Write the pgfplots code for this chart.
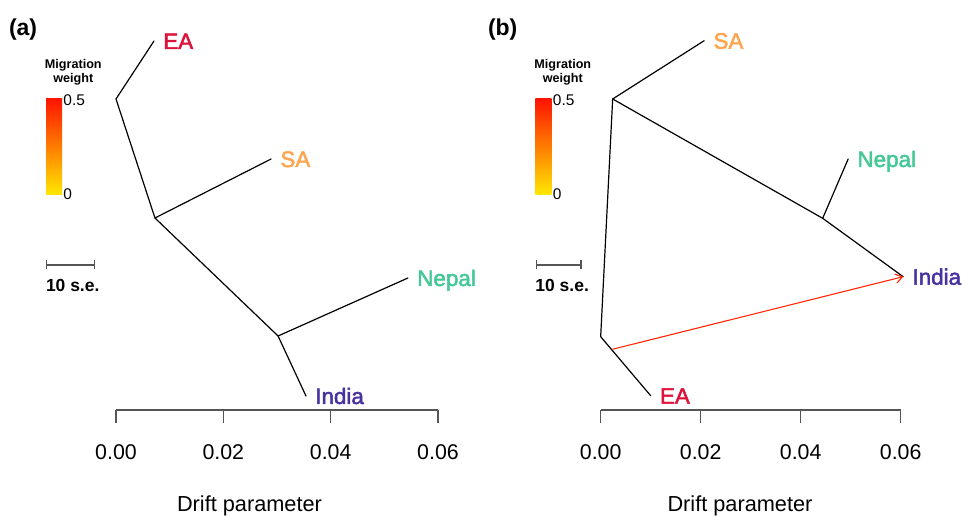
\documentclass[border=0pt]{standalone}
\usepackage{pgfplots}
\pgfplotsset{compat=1.18}
\usepackage{fontspec}
\setmainfont{Liberation Sans}
\newfontfamily\lblfont[FakeBold=2.2]{Liberation Sans}
\usetikzlibrary{arrows.meta}
\definecolor{cEA}{RGB}{220,20,60}
\definecolor{cSA}{RGB}{255,165,79}
\definecolor{cNP}{RGB}{69,200,150}
\definecolor{cIN}{RGB}{72,50,160}
\definecolor{axgray}{RGB}{85,85,85}
\definecolor{mig}{RGB}{255,35,0}
\definecolor{hotred}{RGB}{255,20,0}
\definecolor{hotorange}{RGB}{255,120,0}
\definecolor{hotyellow}{RGB}{255,232,0}

\pgfplotsset{treeaxis/.style={
  scale only axis, anchor=south west,
  height=277.5pt,
  xmin=0, xmax=0.06, ymin=107, ymax=477,
  axis x line*=bottom, axis y line=none, ytick=\empty,
  clip=false,
  xtick={0,0.02,0.04,0.06},
  scaled x ticks=false,
  tick align=outside,
  major tick length=10.1pt,
  every tick/.style={axgray, line width=1.2pt},
  axis line style={axgray, line width=1.2pt},
  /pgf/number format/fixed,
  /pgf/number format/fixed zerofill,
  /pgf/number format/precision=2,
  /pgf/number format/assume math mode=true,
  xticklabel style={font=\fontsize{16}{18}\selectfont},
  xticklabel shift=12pt,
}}
\tikzset{
  tree/.style={black, line width=0.9pt, line join=round, line cap=round, mark=none},
  lbl/.style={anchor=base west, inner sep=0pt, outer sep=0pt, xshift=7pt, yshift=-6pt,
    font=\lblfont\fontsize{16.8}{20}\selectfont},
  txt/.style={inner sep=0pt, outer sep=0pt},
  sbar/.style={axgray, line width=1pt, mark=none, {Bar[width=6.75pt]}-{Bar[width=6.75pt]}},
}

\newcommand\legendblock[1]{%
  \node[txt, anchor=base, font=\bfseries\fontsize{9.45}{11}\selectfont] at ({55pt+#1},336pt) {Migration};
  \node[txt, anchor=base, font=\bfseries\fontsize{9.45}{11}\selectfont] at ({55pt+#1},325.5pt) {weight};
  \shade[bottom color=hotyellow, middle color=hotorange, top color=hotred]
     ({34.5pt+#1},241.5pt) rectangle ({46.5pt+#1},313.5pt);
  \node[txt, anchor=west, font=\fontsize{11.6}{13}\selectfont] at ({47.6pt+#1},312.75pt) {0.5};
  \node[txt, anchor=west, font=\fontsize{11.6}{13}\selectfont] at ({47.6pt+#1},242.25pt) {0};
  \node[txt, anchor=base west, font=\bfseries\fontsize{13.1}{15}\selectfont] at ({34.5pt+#1},169.1pt) {10 s.e.};
}

\begin{document}
\begin{tikzpicture}
\path[use as bounding box] (0,0) rectangle (722.25pt,387.75pt);

% ---------------- panel (a) ----------------
\begin{axis}[treeaxis, at={(87pt,80.25pt)}, width=241.5pt]
  \addplot[tree] coordinates {(0.00708,476) (0,418) (0.00726,299) (0.0289,358)};
  \addplot[tree] coordinates {(0.00726,299) (0.0302,181) (0.0544,239)};
  \addplot[tree] coordinates {(0.0302,181) (0.0354,121)};
  \addplot[sbar] coordinates {(-0.0131,252) (-0.0039,252)};
  \node[lbl, text=cEA] at (axis cs:0.00708,476) {EA};
  \node[lbl, text=cSA] at (axis cs:0.0289,358) {SA};
  \node[lbl, text=cNP] at (axis cs:0.0544,239) {Nepal};
  \node[lbl, text=cIN] at (axis cs:0.0354,121) {India};
\end{axis}

% ---------------- panel (b) ----------------
\begin{axis}[treeaxis, at={(450.5pt,80.25pt)}, width=225pt]
  \addplot[tree] coordinates {(0.0207,476.3) (0.0024,418) (0,180.3) (0.0100,121.3)};
  \addplot[tree] coordinates {(0.0024,418) (0.0444,298.7) (0.0605,240.3)};
  \addplot[tree] coordinates {(0.0444,298.7) (0.0495,358)};
  \addplot[mig, line width=0.8pt, mark=none, -{Straight Barb[length=5pt,width=7pt]}]
     coordinates {(0.00233,167.7) (0.0605,240.3)};
  \addplot[sbar] coordinates {(-0.0130,252) (-0.0038,252)};
  \node[lbl, text=cSA] at (axis cs:0.0207,476.3) {SA};
  \node[lbl, text=cNP] at (axis cs:0.0495,358) {Nepal};
  \node[lbl, text=cIN] at (axis cs:0.0605,240.3) {India};
  \node[lbl, text=cEA] at (axis cs:0.0100,121.3) {EA};
\end{axis}

\legendblock{0pt}
\legendblock{367.1pt}

\node[txt, anchor=base west, font=\bfseries\fontsize{17.25}{20}\selectfont] at (6.75pt,360.75pt) {(a)};
\node[txt, anchor=base west, font=\bfseries\fontsize{17.25}{20}\selectfont] at (366pt,360.75pt) {(b)};
\node[txt, anchor=base, font=\fontsize{16.3}{19}\selectfont] at (187.1pt,4pt) {Drift parameter};
\node[txt, anchor=base, font=\fontsize{16.3}{19}\selectfont] at (555pt,4pt) {Drift parameter};
\end{tikzpicture}
\end{document}
